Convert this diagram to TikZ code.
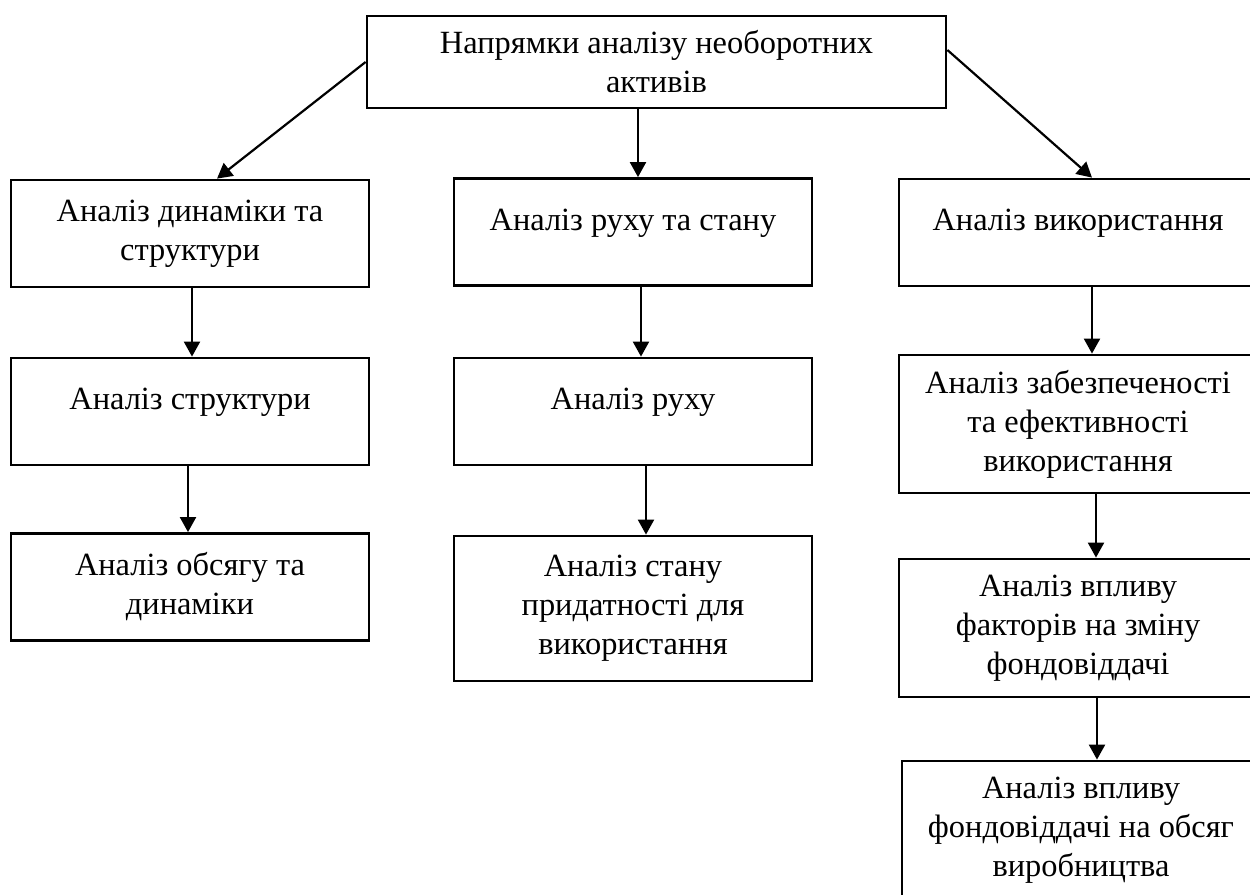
\documentclass[tikz,border=0pt]{standalone}
\usepackage{fontspec}
\setmainfont{Liberation Serif}
\usetikzlibrary{arrows.meta}

\begin{document}
\begin{tikzpicture}[x=0.5pt, y=-0.5pt,
  every node/.style={font=\fontsize{16.2}{19.5}\selectfont},
  box/.style={draw, line width=1.4pt, minimum width=179pt, minimum height=53.5pt, align=center, inner sep=2pt},
  single/.style={text height=11pt, text depth=13pt},
  arr/.style={line width=1.1pt, -{Triangle[width=8pt, length=7.5pt]}}]
  \useasboundingbox (0,0) rectangle (1250,895);
  \clip (0,0) rectangle (1250,895);

  \node[box, minimum width=289.5pt, minimum height=46pt] (top) at (656.5,62) {Напрямки аналізу необоротних\\активів};

  \node[box] (dyn) at (190,233.5) {Аналіз динаміки та\\структури};
  \node[box, single] (str) at (190,411.5) {Аналіз структури};
  \node[box] (vol) at (190,587) {Аналіз обсягу та\\динаміки};

  \node[box, single] (mov) at (633,232) {Аналіз руху та стану};
  \node[box, single] (mv) at (633,411.5) {Аналіз руху};
  \node[box, minimum height=72.5pt] (fit) at (633,608.5) {Аналіз стану\\придатності для\\використання};

  \node[box, single] (use) at (1078,232.5) {Аналіз використання};
  \node[box, minimum height=69pt] (eff) at (1078,424) {Аналіз забезпеченості\\та ефективності\\використання};
  \node[box, minimum height=69pt] (fac) at (1078,628) {Аналіз впливу\\факторів на зміну\\фондовіддачі};
  \node[box, minimum height=69pt] (out) at (1081,830) {Аналіз впливу\\фондовіддачі на обсяг\\виробництва};

  \draw[arr] (top.west) -- ([xshift=13.5pt]dyn.north);
  \draw[arr] ([xshift=-9.25pt]top.south) -- ([xshift=2.5pt]mov.north);
  \draw[arr] ([yshift=6pt]top.east) -- ([xshift=7pt]use.north);
  \draw[arr] ([xshift=1pt]dyn.south) -- ([xshift=1pt]str.north);
  \draw[arr] ([xshift=-1pt]str.south) -- ([xshift=-1pt]vol.north);
  \draw[arr] ([xshift=4pt]mov.south) -- ([xshift=4pt]mv.north);
  \draw[arr] ([xshift=6.5pt]mv.south) -- ([xshift=6.5pt]fit.north);
  \draw[arr] ([xshift=7pt]use.south) -- ([xshift=7pt]eff.north);
  \draw[arr] ([xshift=9pt]eff.south) -- ([xshift=9pt]fac.north);
  \draw[arr] ([xshift=9.5pt]fac.south) -- ([xshift=8pt]out.north);
\end{tikzpicture}
\end{document}
